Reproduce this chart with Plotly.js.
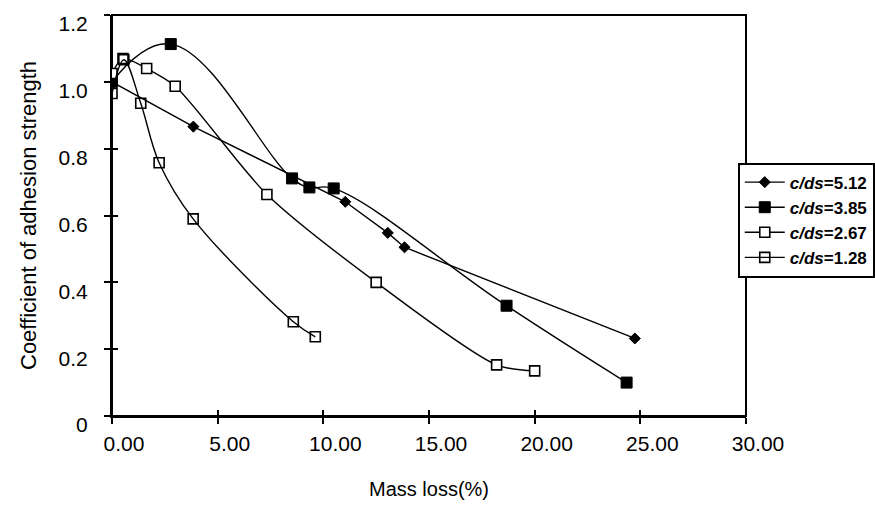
<!DOCTYPE html>
<html>
<head>
<meta charset="utf-8">
<script src="https://cdn.plot.ly/plotly-3.0.1.min.js"></script>
<style>html,body{margin:0;padding:0;background:#fff;}#chart{width:875px;height:519px;}</style>
</head>
<body>
<div id="chart"></div>
<script>
// Data
const x512 = [0, 3.85, 11.04, 13.05, 13.84, 24.74];
const y512 = [1.0, 0.866, 0.641, 0.548, 0.505, 0.232];

const x385 = [0, 2.78, 8.52, 9.34, 10.49, 18.67, 24.35];
const y385 = [1.0, 1.113, 0.711, 0.684, 0.681, 0.33, 0.10];

const x267 = [0, 0.52, 1.64, 2.99, 7.33, 12.5, 18.2, 20.0];
const y267 = [1.025, 1.07, 1.04, 0.987, 0.663, 0.40, 0.153, 0.135];

const x128 = [0, 0.56, 1.36, 2.23, 3.84, 8.58, 9.62];
const y128 = [0.965, 1.066, 0.936, 0.758, 0.59, 0.282, 0.237];

const seriesNames = ['<i>c/ds</i>=5.12', '<i>c/ds</i>=3.85', '<i>c/ds</i>=2.67', '<i>c/ds</i>=1.28'];

const xTickVals = [0, 5, 10, 15, 20, 25, 30];
const xTickText = ['0.00', '5.00', '10.00', '15.00', '20.00', '25.00', '30.00'];
const yTickVals = [0, 0.2, 0.4, 0.6, 0.8, 1.0, 1.2];
const yTickText = ['0', '0.2', '0.4', '0.6', '0.8', '1.0', '1.2'];

const lineStyle = {color: '#000', width: 1.4};

const traces = [
  {x: x512, y: y512, name: seriesNames[0], mode: 'lines+markers', type: 'scatter',
   line: Object.assign({shape: 'linear'}, lineStyle),
   marker: {symbol: 'diamond', size: 8.5, color: '#000', line: {color: '#000', width: 1}}},
  {x: x385, y: y385, name: seriesNames[1], mode: 'lines+markers', type: 'scatter',
   line: Object.assign({shape: 'spline', smoothing: 1.2}, lineStyle),
   marker: {symbol: 'square', size: 11, color: '#000', line: {color: '#000', width: 1}}},
  {x: x267, y: y267, name: seriesNames[2], mode: 'lines+markers', type: 'scatter',
   line: Object.assign({shape: 'spline', smoothing: 0.8}, lineStyle),
   marker: {symbol: 'square', size: 10, color: '#fff', line: {color: '#000', width: 1.6}}},
  {x: x128, y: y128, name: seriesNames[3], mode: 'lines+markers', type: 'scatter',
   line: Object.assign({shape: 'spline', smoothing: 1}, lineStyle),
   marker: {symbol: 'square-open', size: 10, color: '#000', line: {color: '#000', width: 1.6}}},
  // invisible copy on the overlay axes, only so that their inner tick marks are drawn
  {x: x512, y: y512, xaxis: 'x2', yaxis: 'y2', showlegend: false, hoverinfo: 'skip',
   type: 'scatter', mode: 'markers', marker: {opacity: 0}}
];

const font = {family: 'Liberation Sans, Arial, sans-serif', color: '#000'};

const layout = {
  width: 875, height: 519,
  margin: {l: 112, r: 129, t: 15, b: 103, autoexpand: false},
  paper_bgcolor: '#fff', plot_bgcolor: '#fff',
  font: Object.assign({size: 20}, font),
  showlegend: true,
  legend: {
    x: 0.987, xanchor: 'left', y: 0.632, yanchor: 'top',
    bordercolor: '#000', borderwidth: 2, bgcolor: '#fff',
    font: {family: 'Liberation Sans Narrow, Liberation Sans, Arial, sans-serif', size: 17, color: '#000', weight: 'bold'},
    tracegroupgap: 0, itemwidth: 40
  },
  shapes: [
    {type: 'rect', xref: 'x domain', yref: 'y domain', x0: 0, x1: 1, y0: 0, y1: 1,
     line: {color: '#000', width: 2}, fillcolor: 'rgba(0,0,0,0)', layer: 'below'}
  ],
  xaxis: {
    range: [0, 30], tickvals: xTickVals, ticktext: xTickText,
    showgrid: false, zeroline: false,
    showline: true, linecolor: '#000', linewidth: 2,
    ticks: 'outside', ticklen: 6, tickwidth: 2, tickcolor: '#000',
    ticklabelshift: 12, ticklabelstandoff: 2,
    tickfont: Object.assign({size: 21}, font),
    title: {text: 'Mass loss(%)', font: Object.assign({size: 20}, font), standoff: 28}
  },
  yaxis: {
    range: [0, 1.2], tickvals: yTickVals, ticktext: yTickText,
    showgrid: false, zeroline: false,
    showline: true, linecolor: '#000', linewidth: 2,
    ticks: 'outside', ticklen: 6, tickwidth: 2, tickcolor: '#000',
    ticklabelshift: 9, ticklabelstandoff: 12,
    tickfont: Object.assign({size: 21}, font),
    title: {text: 'Coefficient of adhesion strength', font: Object.assign({size: 22}, font), standoff: 16}
  },
  xaxis2: {
    overlaying: 'x', anchor: 'y2', range: [0, 30], tickvals: xTickVals, showticklabels: false,
    showgrid: false, zeroline: false, showline: false,
    ticks: 'inside', ticklen: 6, tickwidth: 2, tickcolor: '#000'
  },
  yaxis2: {
    overlaying: 'y', anchor: 'x2', range: [0, 1.2], tickvals: yTickVals, showticklabels: false,
    showgrid: false, zeroline: false, showline: false,
    ticks: 'inside', ticklen: 6, tickwidth: 2, tickcolor: '#000'
  }
};

Plotly.newPlot('chart', traces, layout, {displayModeBar: false, staticPlot: true});
</script>
</body>
</html>
